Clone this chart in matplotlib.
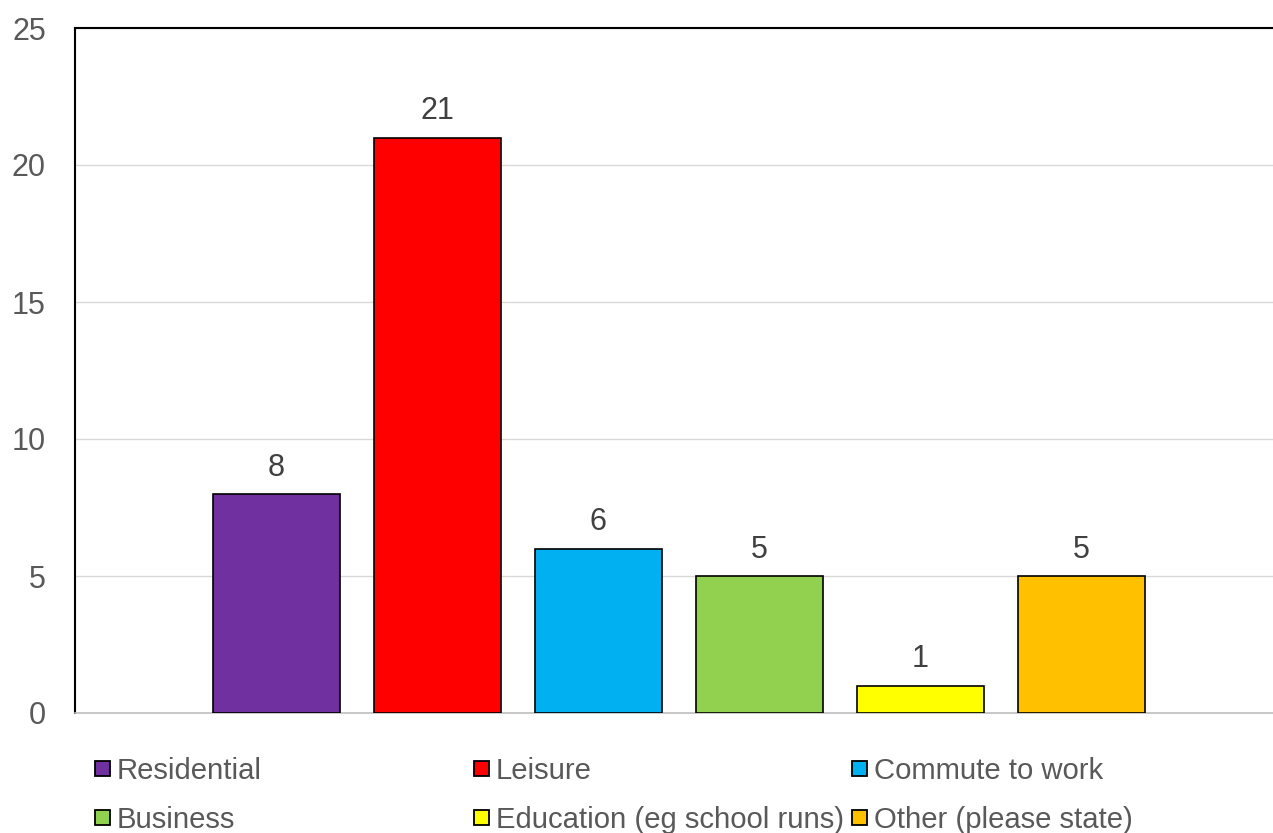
import matplotlib
matplotlib.use("Agg")
import matplotlib.pyplot as plt
from matplotlib.patches import Rectangle

plt.rcParams['font.family'] = ['Liberation Sans', 'DejaVu Sans']

categories = ["Residential", "Leisure", "Commute to work",
              "Business", "Education (eg school runs)", "Other (please state)"]
values = [8, 21, 6, 5, 1, 5]
colors = ["#7030a0", "#ff0000", "#00b0f0", "#92d050", "#ffff00", "#ffc000"]
yticks = [0, 5, 10, 15, 20, 25]

W, H = 1273, 833
fig = plt.figure(figsize=(W / 100, H / 100), dpi=100)
ax = fig.add_axes([75 / W, 1 - 713 / H, 1 - 75 / W, (713 - 28) / H])

x = list(range(len(values)))
ax.bar(x, values, width=0.79, color=colors, edgecolor="black", linewidth=1.2, zorder=3)
for xi, v in zip(x, values):
    ax.annotate(str(v), (xi, v), xytext=(0, 8), textcoords="offset points",
                ha="center", va="bottom", fontsize=22, color="#404040")

ax.set_xlim(-1.2516, 6.19)
ax.set_ylim(0, 25)
ax.set_yticks(yticks)
ax.set_xticks([])
ax.tick_params(axis="y", length=0, pad=21, labelsize=22, labelcolor="#595959")
ax.yaxis.grid(True, color="#d9d9d9", linewidth=1.0, zorder=0)
ax.set_axisbelow(True)
ax.spines["right"].set_visible(False)
ax.spines["left"].set_color("black")
ax.spines["left"].set_linewidth(1.5)
ax.spines["top"].set_color("black")
ax.spines["top"].set_linewidth(1.5)
ax.spines["bottom"].set_color("#bfbfbf")
ax.spines["bottom"].set_linewidth(1.2)

# legend: 3 equal-width columns, filled row by row
col_x = [95, 474, 852]
row_y = [768, 817]
box = 15
for i, (name, col) in enumerate(zip(categories, colors)):
    cx = col_x[i % 3]
    cy = row_y[i // 3]
    fig.patches.append(Rectangle((cx / W, 1 - (cy + box / 2) / H), box / W, box / H,
                                 transform=fig.transFigure, facecolor=col,
                                 edgecolor="black", linewidth=1.3))
    fig.text((cx + box + 7) / W, 1 - cy / H, name, fontsize=21.1, color="#595959",
             ha="left", va="center_baseline")

fig.savefig("out.png", dpi=100)
